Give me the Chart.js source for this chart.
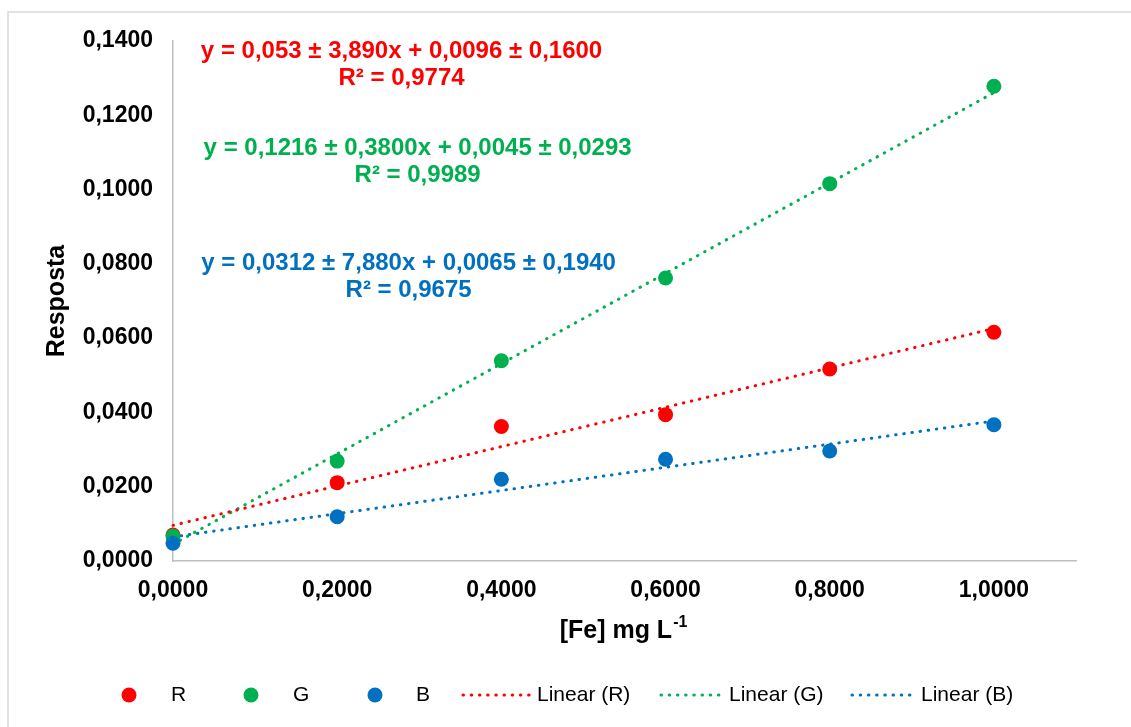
<!DOCTYPE html>
<html>
<head>
<meta charset="utf-8">
<script src="https://cdn.jsdelivr.net/npm/chart.js@4.4.1/dist/chart.umd.min.js"></script>
<style>
  html, body { margin: 0; padding: 0; background: #fff; overflow: hidden; }
  #wrap { width: 1131px; height: 727px; }
</style>
</head>
<body>
<div id="wrap"><canvas id="feChart" width="1131" height="727"></canvas></div>
<script>
// Concentração de Fe (mg L-1)
const concentracoes = [0, 0.2, 0.4, 0.6, 0.8, 1.0];

// Resposta de cada canal
const respostaR = [0.0070, 0.0211, 0.0362, 0.0394, 0.0517, 0.0616];
const respostaG = [0.0067, 0.0269, 0.0539, 0.0762, 0.1016, 0.1278];
const respostaB = [0.0048, 0.0119, 0.0220, 0.0274, 0.0296, 0.0367];

// Retas ajustadas: y = a x + b
const canais = ['R', 'G', 'B'];
const cores = ['#FF0000', '#00B050', '#0070C0'];
const inclinacoes = [0.053, 0.1216, 0.0312];
const interceptos = [0.0096, 0.0045, 0.0065];
const equacoes = [
    'y = 0,053 ± 3,890x + 0,0096 ± 0,1600',
    'y = 0,1216 ± 0,3800x + 0,0045 ± 0,0293',
    'y = 0,0312 ± 7,880x + 0,0065 ± 0,1940'
];
const valoresR2 = ['R² = 0,9774', 'R² = 0,9989', 'R² = 0,9675'];
// onde cada equação fica (centro, em unidades dos eixos)
const posEquacaoX = [0.2784, 0.298, 0.287];
const posEquacaoY = [0.1372, 0.1110, 0.0800];

const xTicks = [0, 0.2, 0.4, 0.6, 0.8, 1.0];
const yTicks = [0, 0.02, 0.04, 0.06, 0.08, 0.10, 0.12, 0.14];

const FONTE = 'Arial, "Liberation Sans", sans-serif';
const PONTILHADO = [0.5, 7.7];

const respostas = [respostaR, respostaG, respostaB];

const datasets = [];
canais.forEach((c, i) => {
    datasets.push({
        label: c,
        type: 'scatter',
        data: concentracoes.map((x, k) => ({ x: x, y: respostas[i][k] })),
        backgroundColor: cores[i],
        borderColor: cores[i],
        pointRadius: 7.5,
        pointHoverRadius: 7.5,
        borderWidth: 0,
        order: 3 - i,
        clip: false
    });
});
canais.forEach((c, i) => {
    datasets.push({
        label: 'Linear (' + c + ')',
        type: 'line',
        data: [
            { x: 0, y: interceptos[i] },
            { x: 1, y: inclinacoes[i] + interceptos[i] }
        ],
        borderColor: cores[i],
        borderWidth: 3,
        borderDash: PONTILHADO,
        borderCapStyle: 'round',
        pointRadius: 0,
        fill: false,
        order: 10 + i,
        clip: false
    });
});

const fmt = v => v.toFixed(4).replace('.', ',');

// fundo, moldura, equações, título do eixo x e legenda
const extras = {
    id: 'extras',
    beforeDraw(chart) {
        const ctx = chart.ctx;
        ctx.save();
        ctx.fillStyle = '#fff';
        ctx.fillRect(0, 0, chart.width, chart.height);
        ctx.strokeStyle = '#d9d9d9';
        ctx.lineWidth = 1.5;
        ctx.strokeRect(8, 12, chart.width + 40, chart.height + 40);
        ctx.restore();
    },
    afterDraw(chart) {
        const ctx = chart.ctx;
        const sx = chart.scales.x, sy = chart.scales.y;
        ctx.save();
        ctx.textAlign = 'center';
        ctx.textBaseline = 'middle';
        ctx.font = 'bold 24px ' + FONTE;
        equacoes.forEach((eq, i) => {
            const px = sx.getPixelForValue(posEquacaoX[i]);
            const py = sy.getPixelForValue(posEquacaoY[i]);
            ctx.fillStyle = cores[i];
            ctx.fillText(eq, px, py);
            ctx.fillText(valoresR2[i], px, py + 27);
        });

        // título do eixo x com expoente
        ctx.fillStyle = '#000';
        ctx.textAlign = 'left';
        const base = '[Fe] mg L';
        const sup = '-1';
        ctx.font = 'bold 25px ' + FONTE;
        const wBase = ctx.measureText(base).width;
        ctx.font = 'bold 16px ' + FONTE;
        const wSup = ctx.measureText(sup).width;
        const x0 = 623 - (wBase + wSup) / 2;
        ctx.font = 'bold 25px ' + FONTE;
        ctx.fillText(base, x0, 631);
        ctx.font = 'bold 16px ' + FONTE;
        ctx.fillText(sup, x0 + wBase + 1, 623);

        // legenda
        const yl = 695;
        ctx.font = '21px ' + FONTE;
        const marcadores = [129, 251, 375];
        const textosPonto = [171, 293, 416];
        canais.forEach((c, i) => {
            ctx.fillStyle = cores[i];
            ctx.beginPath();
            ctx.arc(marcadores[i], yl, 7.5, 0, Math.PI * 2);
            ctx.fill();
            ctx.fillStyle = '#000';
            ctx.fillText(c, textosPonto[i], yl);
        });
        const linhaIni = [463, 661, 852];
        const textosLinha = [537, 729, 921];
        canais.forEach((c, i) => {
            ctx.strokeStyle = cores[i];
            ctx.lineWidth = 3;
            ctx.lineCap = 'round';
            ctx.setLineDash(PONTILHADO);
            ctx.beginPath();
            ctx.moveTo(linhaIni[i], yl);
            ctx.lineTo(textosLinha[i] - 6, yl);
            ctx.stroke();
            ctx.setLineDash([]);
            ctx.fillStyle = '#000';
            ctx.fillText('Linear (' + c + ')', textosLinha[i], yl);
        });
        ctx.restore();
    }
};

new Chart(document.getElementById('feChart').getContext('2d'), {
    type: 'scatter',
    data: { datasets: datasets },
    options: {
        responsive: false,
        animation: false,
        events: [],
        layout: { padding: { top: 41, right: 55, left: 0, bottom: 0 } },
        plugins: {
            legend: { display: false },
            tooltip: { enabled: false }
        },
        scales: {
            x: {
                type: 'linear',
                min: 0,
                max: 1.1,
                afterFit: s => { s.height = 166; },
                afterBuildTicks: s => { s.ticks = xTicks.map(v => ({ value: v })); },
                ticks: {
                    padding: 16,
                    color: '#000',
                    font: { family: FONTE, size: 23, weight: 'bold' },
                    callback: v => fmt(v)
                },
                grid: { drawOnChartArea: false, drawTicks: false },
                border: { display: true, color: '#bfbfbf', width: 1.5 }
            },
            y: {
                type: 'linear',
                min: 0,
                max: 0.14,
                afterFit: s => { s.width = 173; },
                afterBuildTicks: s => { s.ticks = yTicks.map(v => ({ value: v })); },
                ticks: {
                    padding: 20,
                    color: '#000',
                    font: { family: FONTE, size: 23, weight: 'bold' },
                    callback: v => fmt(v)
                },
                grid: { drawOnChartArea: false, drawTicks: false },
                border: { display: true, color: '#bfbfbf', width: 1.5 },
                title: {
                    display: true,
                    text: 'Resposta',
                    color: '#000',
                    font: { family: FONTE, size: 25, weight: 'bold' },
                    padding: { top: 42, bottom: 0 }
                }
            }
        }
    },
    plugins: [extras]
});
</script>
</body>
</html>
